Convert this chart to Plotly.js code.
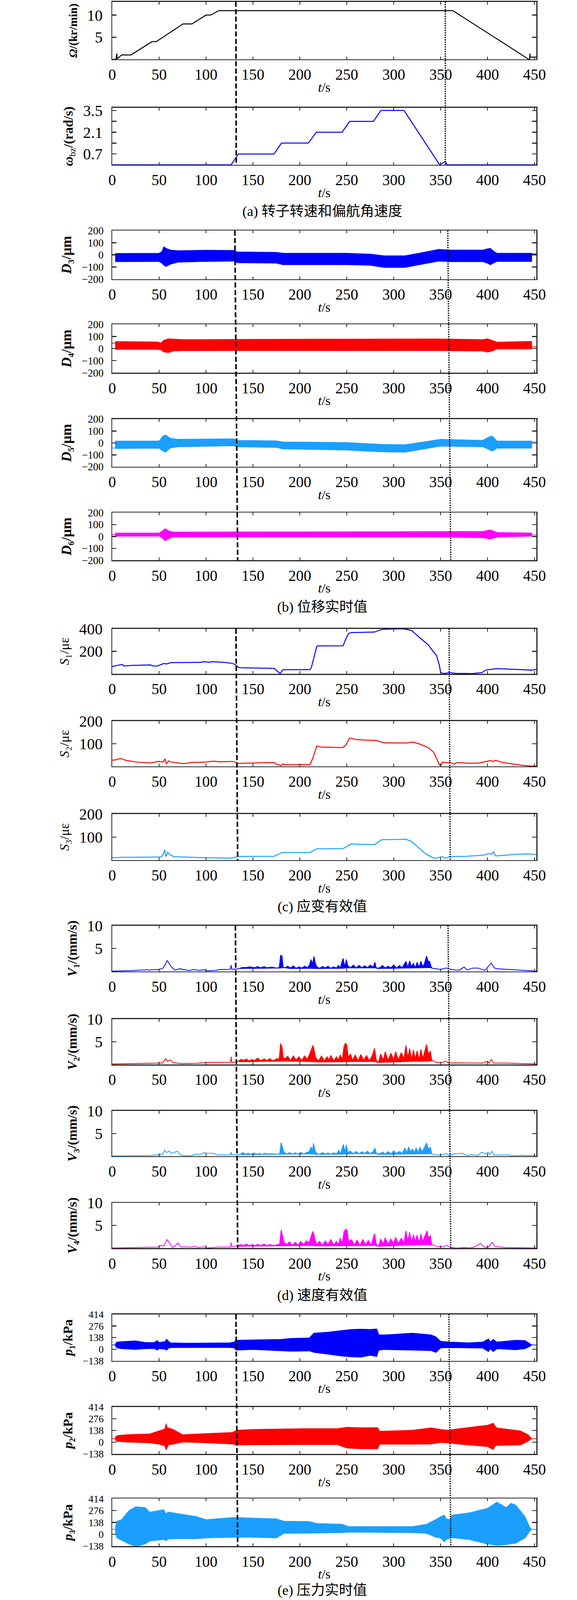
<!DOCTYPE html>
<html>
<head>
<meta charset="utf-8">
<script src="https://cdn.plot.ly/plotly-3.0.1.min.js"></script>
<style>
  body { margin: 0; background: #fff; }
  #chart { width: 1476px; height: 4096px; }
</style>
</head>
<body>
<div id="chart"></div>
<script>
// rotor speed (kr/min) and yaw rate (rad/s): [t, value]
const rotorSpeed = [[0,0],[4,0],[5,1.3],[5.3,0.1],[10,1.0],[20,1.0],[42.4,4],[47,4],[75.5,8],[85,8],[100,10],[105,10],
  [113.7,11],[363,11],[444,0],[445,0],[445.2,1.3],[445.5,0.5],[452,0.5]];
const yawRate = [[0,0],[126.7,0],[134.5,0.7],[172.5,0.7],[180.4,1.4],[209,1.4],[217.6,2.1],[245,2.1],[253,2.8],
  [278.4,2.8],[286.3,3.5],[311,3.5],[349,0],[355,0.22],[357,0],[452,0]];

// displacement envelopes (um): [t, upper, lower]
const d3 = [[0,3,3],[3.4,3,3],[3.5,12,-56],[50,14,-54],[53,28,-68],[55,67,-86],[57.5,54,-95],[62,40,-77],[70,35,-60],
  [100,39,-54],[130,37,-51],[133,25,-65],[175,21,-68],[182,14,-81],[250,14,-81],[275,7,-86],[290,-7,-103],[312,-7,-103],
  [330,19,-77],[348,46,-51],[360,40,-56],[395,40,-56],[400,51,-68],[403,54,-81],[407,28,-65],[410,14,-54],[447,14,-54],
  [447.1,9,9],[452,9,9]];
const d4 = [[0,44,44],[3.4,44,44],[3.5,58,-7],[48,55,-7],[52,46,-11],[55,69,-28],[60,81,-34],[65,78,-21],[75,74,-18],
  [130,76,-18],[345,80,-18],[395,74,-21],[400,81,-30],[405,67,-21],[410,53,-4],[447,60,-4],[447.1,14,14],[452,14,14]];
const d5 = [[0,-42,-42],[3.4,-42,-42],[3.5,16,-47],[50,16,-45],[54,58,-69],[57,67,-78],[62,40,-42],[70,31,-33],
  [130,35,-24],[133,22,-33],[175,18,-38],[182,9,-51],[250,4,-60],[285,-11,-75],[312,-15,-78],[350,31,-27],[395,22,-33],
  [400,45,-51],[405,58,-69],[410,16,-45],[447,16,-45],[447.1,9,9],[452,9,9]];
const d6 = [[0,16,16],[3.4,16,16],[3.5,29,2],[50,29,2],[53,43,-11],[56.5,66,-37],[60,48,-20],[65,37,-5],[345,41,-5],
  [395,43,-11],[403,55,-23],[410,34,-5],[447,29,2],[447.1,12,12],[452,12,12]];

// strain RMS (ue): [t, value]
const s1 = [[0,65],[8.5,79],[10.8,84],[12.5,70],[20,75],[40.7,79],[43.6,70],[48,70],[52.5,84],[55,92],[58,88],[62.7,100],
  [93.5,102],[99.4,108],[102.3,103],[106.7,108],[120,102],[128.7,92],[131.6,79],[134.5,57],[137.5,54],[172.6,49],[179,3],
  [182,37],[184.4,37],[210.7,38],[212.2,55],[218,244],[219.5,248],[246,249],[249.5,319],[252,359],[254.7,366],[279.6,371],
  [285.5,390],[290,396],[310,400],[319,386],[328,319],[336.8,258],[341,210],[345.6,163],[348.5,81],[350,14],[353,3],
  [357,9],[360,11],[366,5],[383.7,3],[394,11],[398,34],[401,38],[410,46],[436,38],[446.6,33],[452,41]];
const s2 = [[0,27],[5.6,30],[8.5,35],[11.4,31],[14.4,27],[26,19],[40.7,15],[49.5,22],[54,19],[56.3,33],[57.8,10],[59.8,24],
  [62.7,19],[67,17],[76,12],[85,17],[99.4,19],[108,23],[114,20],[128.7,22],[134.5,13],[172.6,17],[175.6,9],[180,3],[182,11],
  [184.4,7],[210.7,7],[213.7,35],[218,90],[222.5,85],[246,83],[249,95],[253,125],[260.6,118],[281,114],[290,104],[313,103],
  [320.6,107],[328,98],[336.8,83],[342.6,62],[345.6,35],[348.5,9],[350,2],[352,19],[356,16],[360,18],[364.6,10],[367.5,17],
  [378,14],[390,14],[398,21],[402.7,25],[405.6,22],[408.6,27],[416,17],[427.6,10],[436,5],[445,2],[452,1]];
const s3 = [[0,10.5],[11.4,12],[40.7,13],[52.5,14],[54.5,28],[56,45],[57.2,15],[59,35],[61,25],[65.7,15],[85,12],[114,10],
  [127,8.5],[134.5,16],[172.6,17],[181.4,33],[210.7,33],[218,49],[246,50],[254.7,70],[279.6,67],[287,88.5],[313,90.5],
  [319,81],[333.8,28],[342.6,8.5],[347,10],[351.4,15],[355,8.5],[360,15],[378,17],[395.5,21.6],[402.7,29.5],[404.2,24],
  [406.5,36.7],[408.5,18],[430.6,25],[442.3,27],[452,25]];

// velocity RMS (mm/s): [t, value] (peaks of the signal)
const v1 = [[0,0.08],[20,0.18],[30,0.3],[35,0.32],[37,0.4],[39,0.3],[45,0.38],[49.5,0.45],[54,0.7],[57,1.6],[58.3,2.4],
  [60,2.0],[63,1.0],[67,0.26],[71.5,0.58],[76,0.42],[82,0.22],[87.6,0.42],[90,0.3],[93.5,0.26],[98,0.38],[101,0.14],
  [111,0.26],[114,0.42],[125.7,0.46],[126.8,1.4],[127.3,0.5],[131.6,0.5],[135,0.6],[137.5,0.8],[140,0.9],[143,0.86],
  [146,1.0],[149,0.93],[152,0.8],[155,1.1],[158,0.8],[162,1.05],[165,0.8],[170,0.95],[175,0.75],[178,0.85],[179.5,3.5],
  [181,3.4],[182,1.0],[184,0.8],[187,1.15],[190,0.75],[193,1.2],[196,0.7],[199,1.0],[202,0.75],[205,1.15],[208,0.85],
  [210,1.3],[212,2.6],[213.5,1.6],[215,3.25],[216.5,1.8],[218,1.0],[221,0.7],[224,1.1],[227,0.8],[230,1.15],[233,0.7],
  [236,1.0],[239,0.75],[241,1.3],[243,0.8],[246,2.85],[248,1.0],[249.5,2.6],[251,1.3],[254,0.8],[257,1.4],[260,0.75],
  [263,1.35],[266,0.8],[269,1.25],[272,0.85],[275,1.4],[278,0.9],[280,2.0],[281.5,0.7],[285,0.8],[288,1.3],[291,0.75],
  [294,1.15],[297,0.8],[300,1.4],[303,0.75],[306,1.3],[309,0.8],[313,2.2],[315,0.9],[317,2.3],[319,1.0],[321,1.8],
  [323,0.8],[325,2.0],[327,0.9],[329,2.2],[331,1.0],[333,1.9],[335,3.35],[337,2.0],[338,2.3],[340,1.0],[341,0.7],
  [345,0.6],[350,0.45],[356,0.75],[360,0.5],[366,0.32],[370,0.3],[375,0.97],[378,0.32],[384,0.73],[390,0.75],[397,0.22],
  [404,1.84],[407,0.8],[410,0.6],[422,0.45],[436,0.26],[449,0.08],[452,0.08]];
const v2 = [[0,0.1],[20,0.16],[50,0.3],[54,0.35],[57,1.3],[59,0.7],[62,1.0],[65,0.4],[73,0.2],[90,0.26],[99,0.4],[126,0.47],
  [126.8,1.7],[127.3,0.45],[131.6,0.47],[135,0.8],[137.5,1.15],[140,0.9],[143,1.2],[146,0.8],[149,1.1],[152,0.9],[155,1.4],
  [158,0.85],[162,1.2],[165,0.9],[168,1.3],[171,0.8],[175,1.2],[178,1.3],[179.5,4.6],[181,3.8],[182,1.7],[184,1.2],
  [187,1.8],[190,0.9],[193,1.9],[196,1.0],[199,1.7],[202,0.9],[205,1.9],[208,1.1],[211,2.6],[212.5,3.5],[214,4.2],
  [215.5,2.8],[217,1.4],[220,0.8],[223,1.9],[226,0.8],[229,1.7],[231,1.0],[233,2.0],[236,0.8],[239,1.7],[241,1.0],
  [243,2.1],[245,1.0],[247,3.9],[248.5,4.7],[250,4.3],[251.5,1.6],[254,2.3],[256,0.9],[259,2.1],[262,0.8],[265,2.2],
  [268,0.9],[271,2.0],[274,0.8],[277,1.9],[279.5,3.55],[281.5,0.9],[284,0.5],[286,2.3],[289,1.0],[291,2.8],[294,0.9],
  [297,2.5],[300,1.0],[302,2.8],[305,1.0],[308,2.6],[311,1.2],[313,4.2],[315,1.4],[317,3.5],[319,1.0],[321,3.2],[323,1.2],
  [325,3.0],[327,1.0],[329,3.3],[331,1.3],[333,2.8],[335,4.4],[337,2.2],[339,3.0],[340.5,1.0],[342,0.8],[345,0.5],
  [350,0.35],[356,0.7],[358,0.3],[365,0.35],[380,0.35],[395,0.3],[400,0.7],[401.5,0.3],[404,1.1],[406.5,0.3],[420,0.3],
  [436,0.2],[449,0.1],[452,0.1]];
const v3 = [[0,0.08],[40,0.14],[49.5,0.3],[54,0.5],[56,1.3],[58,0.8],[61,1.15],[63,0.6],[67,0.9],[69.5,1.1],[72,0.35],
  [76,0.1],[85,0.14],[89,0.48],[92,0.35],[95,0.5],[98,0.78],[101,0.65],[108,0.64],[112.5,0.28],[126,0.28],[126.8,0.94],
  [127.3,0.3],[133,0.35],[137,0.5],[139,0.78],[142,0.45],[145,0.6],[148,0.4],[151,0.7],[154,0.45],[157,0.6],[160,0.4],
  [163,0.65],[166,0.45],[170,0.55],[174,0.45],[178.5,0.5],[180,3.0],[181.5,2.0],[183,0.9],[186,0.5],[189,0.8],[192,0.45],
  [195,0.75],[198,0.45],[201,0.85],[204,0.5],[207,0.8],[210,1.0],[212,2.05],[213.5,1.2],[214.5,2.85],[216,1.3],[218,0.6],
  [221,0.4],[224,0.8],[227,0.45],[230,0.7],[233,0.4],[236,0.75],[239,0.5],[241.5,1.3],[243,0.5],[246.5,2.6],[248,0.9],
  [249.5,2.5],[251,0.9],[254,1.1],[257,0.55],[260,1.05],[263,0.5],[266,1.0],[269,0.6],[272,1.1],[275,0.55],[278,1.0],
  [280,1.8],[281.5,0.6],[285,0.5],[288,0.9],[291,0.5],[294,1.0],[297,0.55],[300,1.15],[303,0.6],[306,1.05],[309,0.6],
  [312,1.8],[314,0.8],[316,2.05],[318,0.9],[320,1.6],[322,0.8],[324,1.8],[326,0.8],[328,1.95],[330,1.0],[332,1.6],
  [335,2.9],[337,1.5],[339,2.0],[340.5,0.6],[342,0.3],[350,0.25],[356,0.6],[358,0.2],[366,0.54],[373,0.62],[378,0.14],
  [383,0.3],[390,0.14],[393,0.84],[396,0.7],[398,0.5],[400.5,0.84],[402,0.3],[404.5,1.08],[407,0.25],[422,0.28],[425,0.1],
  [436,0.18],[452,0.1]];
const v4 = [[0,0.05],[26,0.14],[41,0.2],[49.5,0.24],[52,0.65],[55,0.45],[58.3,1.9],[61,1.15],[64,0.18],[67,0.5],[70,1.15],
  [73,0.3],[85,0.24],[87.6,0.38],[92,0.15],[98,0.3],[101,0.05],[112.5,0.24],[126,0.24],[126.8,1.25],[127.3,0.35],[133,0.5],
  [137,0.8],[140,0.6],[143,0.9],[146,0.55],[149,0.8],[152,0.5],[155,0.85],[158,0.6],[162,0.9],[165,0.55],[168,0.8],
  [172,0.6],[176,0.75],[178.5,0.9],[180,4.0],[181.5,2.8],[183,1.3],[186,0.8],[189,1.4],[192,0.6],[195,1.3],[198,0.7],
  [201,1.5],[204,0.8],[207,1.6],[210,1.2],[212,2.6],[213.7,3.7],[215,3.0],[216.5,1.6],[218,0.8],[221,1.5],[224,0.6],
  [227,1.6],[230,0.8],[233,1.9],[236,0.7],[239,1.5],[241,0.8],[243,2.2],[245,0.9],[247,3.6],[249,4.2],[250.5,3.8],
  [252,1.4],[255,1.9],[258,0.7],[261,1.8],[264,0.6],[267,1.9],[270,0.8],[273,1.7],[276,0.7],[279.5,3.2],[281.5,0.8],
  [284,0.5],[286,2.0],[289,1.0],[291,2.3],[294,0.9],[297,2.0],[300,1.0],[302,2.4],[305,1.0],[308,2.2],[311,1.2],[313,3.8],
  [315,1.5],[317,3.5],[319,1.2],[321,3.0],[323,1.4],[325,2.9],[327,1.2],[329,3.1],[331,1.5],[333,2.6],[335.6,3.8],
  [337,2.2],[339,2.8],[340.5,0.8],[345,0.4],[352,0.3],[356.5,0.6],[360,0.25],[367,0],[372,0.1],[375,0.18],[380.7,0.05],
  [386.6,0.3],[392.4,1.05],[395,0.45],[400,0.05],[404.8,1.3],[408,0.35],[412,0.3],[418,0.15],[430,0.12],[452,0.05]];
// noise floor of the velocity signals while the yaw rate is applied: [t, value]
const v1Floor = [[135,0.6],[178,0.7],[183,0.8],[190,0.6],[210,0.65],[218,0.6],[245,0.65],[252,0.75],[280,0.75],[284,0.6],
  [312,0.7],[330,0.8],[338,0.8],[341,0.7]];
const v2Floor = [[135,0.55],[178,0.7],[184,0.7],[210,0.6],[220,0.5],[245,0.55],[255,0.6],[280,0.6],[284,0.4],[312,0.6],
  [338,0.7],[341,0.8]];
const v3Floor = [[137,0.3],[178,0.35],[184,0.4],[210,0.45],[220,0.35],[245,0.4],[255,0.5],[280,0.5],[284,0.35],[312,0.45],
  [338,0.5],[340.5,0.5]];
const v4Floor = [[133,0.35],[178,0.45],[184,0.5],[210,0.55],[220,0.45],[245,0.5],[255,0.55],[280,0.55],[284,0.35],[312,0.6],
  [338,0.7],[340.5,0.7]];

// pressure envelopes (kPa): [t, upper, lower]
const p1 = [[0,50,50],[3.4,50,50],[3.5,64,35],[5,85,14],[10,90,5],[25,99,-4],[35,81,5],[45,80,7],[48,103,-12],[50,80,5],
  [56,90,0],[58,120,-12],[60,95,10],[62,76,18],[80,71,19],[125,76,19],[130,85,14],[132,106,-12],[150,111,-4],[180,117,-18],
  [190,129,-25],[210,134,-21],[215,191,-39],[230,203,-60],[245,223,-83],[255,235,-92],[265,239,-96],[275,235,-74],
  [282,241,-88],[284,173,-12],[290,170,-4],[300,177,-7],[320,191,-12],[340,170,-18],[345,147,-39],[350,94,14],[360,85,18],
  [380,76,14],[395,85,12],[401,124,-30],[403,85,5],[406,117,-30],[410,85,5],[430,106,-7],[440,103,5],[445,67,32],
  [447,50,50],[452,50,50]];
const p2 = [[0,42,42],[3.4,42,42],[3.5,60,25],[5,77,10],[15,89,2],[40,98,-7],[50,133,-24],[56,154,-42],[57.5,217,-91],
  [59,160,-50],[60,168,-30],[65,150,-24],[75,89,2],[100,101,-7],[128,115,-21],[133,141,-33],[150,150,-30],[200,159,-28],
  [240,159,-28],[250,176,-68],[265,171,-77],[283,171,-77],[285,129,-24],[320,141,-24],[340,168,-21],[350,150,-3],
  [358,141,-7],[370,159,-24],[390,185,-42],[400,199,-51],[406,224,-86],[408,190,-45],[410,168,-38],[435,133,-33],
  [443,89,10],[447,42,42],[452,42,42]];
const p3 = [[0,58,58],[3.4,58,58],[3.5,90,20],[5,152,-42],[10,170,-69],[18,276,-113],[25,320,-140],[35,311,-113],
  [40,258,-78],[55,285,-60],[57,240,-75],[60,258,-55],[70,241,-51],[90,205,-51],[100,170,-42],[130,196,-34],[150,188,-34],
  [175,179,-42],[183,152,11],[210,149,11],[218,126,14],[245,117,19],[252,90,25],[320,90,19],[335,117,11],[345,173,-34],
  [350,205,-42],[354,223,-87],[356,180,-60],[360,170,-45],[362,223,-40],[380,249,-60],[400,302,-113],[410,373,-127],
  [420,311,-120],[425,360,-110],[430,338,-104],[440,205,-42],[445,81,37],[447,58,58],[452,58,58]];

// event times (s) of the two vertical markers, per figure group: [top, bottom]
const dashT = [[131.8,132.2],[130.7,133.7],[131.9,133.7],[131.3,133.7],[131.9,133.7]];
const dotT  = [[355,355],[357.6,360.8],[359,360.2],[357.9,360.8],[358.8,360.8]];

const xTicks = [0,50,100,150,200,250,300,350,400,450];
const captions = ['(a) 转子转速和偏航角速度','(b) 位移实时值','(c) 应变有效值','(d) 速度有效值','(e) 压力实时值'];

// the window shows 1476x4096, so the 6280-px-tall reference sheet is laid out in proportion
const W = 1476, H = 4096, REF_H = 6280, L = 287, R = 1372;
const BLUE = '#0000ff', RED = '#ff0000', SKY = '#1a9fff', MAG = '#ff00ff';
const FONT = 'Liberation Serif, "Times New Roman", "Noto Sans CJK SC", serif';
const AXIS = '#262626';

// size = tick label font, kept small where five labels share a short panel
const dTicks = { vals: [-200,-100,0,100,200], text: ['\u2212200','\u2212100','0','100','200'], range: [-200,200], size: 27 };
const pTicks = { vals: [-138,0,138,276,414], text: ['\u2212138','0','138','276','414'], range: [-138,414], size: 26 };
const vTicks = { vals: [5,10], text: ['5','10'], range: [0,10], size: 40 };
const sTicks = { vals: [100,200], text: ['100','200'], range: [0,200], size: 40 };

// panel frames in reference pixels (top, bottom)
const panels = [
  { top: 7,    bottom: 233,  size: 30, title: '<b><i>Ω</i>/(kr/min)</b>',
    ticks: { vals: [5,10], text: ['5','10'], range: [0,13], size: 40 } },
  { top: 423,  bottom: 647,  size: 34, title: '<b><i>ω</i></b><sub>bz</sub><b>/(rad/s)</b>',
    ticks: { vals: [0.7,2.1,3.5], text: ['0.7','2.1','3.5'], minor: [1.4,2.8], range: [0,3.675], size: 40 } },
  { top: 905,  bottom: 1096, size: 36, title: '<b><i>D</i>₃/μm</b>', ticks: dTicks },
  { top: 1273, bottom: 1463, size: 36, title: '<b><i>D</i>₄/μm</b>', ticks: dTicks },
  { top: 1645, bottom: 1832, size: 36, title: '<b><i>D</i>₅/μm</b>', ticks: dTicks },
  { top: 2012, bottom: 2199, size: 36, title: '<b><i>D</i>₆/μm</b>', ticks: dTicks },
  { top: 2468, bottom: 2645, size: 34, title: '<i>S</i>₁/με',
    ticks: { vals: [200,400], text: ['200','400'], range: [0,400], size: 40 } },
  { top: 2830, bottom: 3008, size: 34, title: '<i>S</i>₂/με', ticks: sTicks },
  { top: 3195, bottom: 3376, size: 34, title: '<i>S</i>₃/με', ticks: sTicks },
  { top: 3633, bottom: 3813, size: 34, title: '<b><i>V</i>₁/(mm/s)</b>', ticks: vTicks },
  { top: 4000, bottom: 4178, size: 34, title: '<b><i>V</i>₂/(mm/s)</b>', ticks: vTicks },
  { top: 4360, bottom: 4538, size: 34, title: '<b><i>V</i>₃/(mm/s)</b>', ticks: vTicks },
  { top: 4721, bottom: 4899, size: 34, title: '<b><i>V</i>₄/(mm/s)</b>', ticks: vTicks },
  { top: 5159, bottom: 5341, size: 34, title: '<b><i>p</i>₁/kPa</b>', ticks: pTicks },
  { top: 5522, bottom: 5707, size: 34, title: '<b><i>p</i>₂/kPa</b>', ticks: pTicks },
  { top: 5882, bottom: 6069, size: 34, title: '<b><i>p</i>₃/kPa</b>', ticks: pTicks }
];
// figure groups: first and last panel index, caption centre (reference px)
const groups = [[0,1,830],[2,5,2383],[6,8,3559],[9,12,5084],[13,15,6242]];

function axId(i) { return i === 0 ? '' : String(i + 1); }
function frac(px) { return 1 - px / REF_H; }

function line(pts, color, width, i) {
  return { x: pts.map(p => p[0]), y: pts.map(p => p[1]), type: 'scatter', mode: 'lines',
    line: { color: color, width: width }, xaxis: 'x' + axId(i), yaxis: 'y' + axId(i), hoverinfo: 'skip' };
}

// dense oscillating signal drawn as a filled band between its envelopes
function band(pts, color, i) {
  const t = pts.map(p => p[0]);
  return [
    { x: t, y: pts.map(p => p[2]), type: 'scatter', mode: 'lines', line: { color: color, width: 1.5 },
      xaxis: 'x' + axId(i), yaxis: 'y' + axId(i), hoverinfo: 'skip' },
    { x: t, y: pts.map(p => p[1]), type: 'scatter', mode: 'lines', line: { color: color, width: 1.5 },
      fill: 'tonexty', fillcolor: color, xaxis: 'x' + axId(i), yaxis: 'y' + axId(i), hoverinfo: 'skip' }
  ];
}

// velocity: peaks as a line, plus the dense part between the noise floor and the peaks filled
function noisy(pts, floor, color, i) {
  const t0 = floor[0][0], t1 = floor[floor.length - 1][0];
  const seg = pts.filter(p => p[0] >= t0 && p[0] <= t1);
  const peak = line(pts, color, 2, i);
  const lo = line(floor, color, 1, i);
  const hi = line(seg, color, 1, i);
  hi.fill = 'tonexty';
  hi.fillcolor = color;
  return [lo, hi, peak];
}

const traces = [
  line(rotorSpeed, '#000000', 2.5, 0),
  line(yawRate, BLUE, 2.5, 1),
  ...band(d3, BLUE, 2), ...band(d4, RED, 3), ...band(d5, SKY, 4), ...band(d6, MAG, 5),
  line(s1, BLUE, 2.5, 6), line(s2, RED, 2.5, 7), line(s3, SKY, 2.5, 8),
  ...noisy(v1, v1Floor, BLUE, 9), ...noisy(v2, v2Floor, RED, 10),
  ...noisy(v3, v3Floor, SKY, 11), ...noisy(v4, v4Floor, MAG, 12),
  ...band(p1, BLUE, 13), ...band(p2, RED, 14), ...band(p3, SKY, 15)
];

const layout = {
  width: W, height: H,
  margin: { l: L, r: W - R, t: 0, b: 0 },
  paper_bgcolor: '#ffffff', plot_bgcolor: '#ffffff',
  showlegend: false,
  font: { family: FONT, color: '#000000', size: 40 },
  shapes: [], annotations: []
};

panels.forEach((p, i) => {
  const k = axId(i);
  layout['xaxis' + k] = {
    domain: [0, 1], anchor: 'y' + k, range: [0, 452],
    tickvals: xTicks, ticks: 'inside', ticklen: 7, tickwidth: 2.5, tickcolor: AXIS,
    showline: true, linewidth: 2.5, linecolor: AXIS, mirror: 'ticks',
    showgrid: false, zeroline: false, ticklabelstandoff: 3,
    tickfont: { size: 39, family: FONT },
    title: { text: '<i>t</i>/s', font: { size: 34, family: FONT }, standoff: 0 }
  };
  const y = {
    domain: [frac(p.bottom), frac(p.top)], anchor: 'x' + k, range: p.ticks.range,
    tickvals: p.ticks.vals, ticktext: p.ticks.text,
    ticks: 'inside', ticklen: 11, tickwidth: 2.5, tickcolor: AXIS,
    showline: true, linewidth: 2.5, linecolor: AXIS, mirror: 'ticks',
    showgrid: false, zeroline: false, ticklabelstandoff: 14,
    tickfont: { size: p.ticks.size, family: FONT },
    title: { text: p.title, font: { size: p.size, family: FONT }, standoff: 16 }
  };
  if (p.ticks.minor) {
    y.minor = { tickmode: 'array', tickvals: p.ticks.minor, ticks: 'inside', ticklen: 11, tickwidth: 2.5,
      tickcolor: AXIS, showgrid: false };
  }
  layout['yaxis' + k] = y;
});

groups.forEach((g, j) => {
  const yTop = frac(panels[g[0]].top);
  const yBot = frac(panels[g[1]].bottom);
  layout.shapes.push({ type: 'line', xref: 'x', yref: 'paper', x0: dashT[j][0], x1: dashT[j][1], y0: yTop, y1: yBot,
    line: { color: '#000000', width: 4, dash: '13px,6px' } });
  layout.shapes.push({ type: 'line', xref: 'x', yref: 'paper', x0: dotT[j][0], x1: dotT[j][1], y0: yTop, y1: yBot,
    line: { color: '#000000', width: 3.5, dash: '3px,3px' } });
  layout.annotations.push({ text: captions[j], xref: 'paper', yref: 'paper', x: 0.495, y: frac(g[2]),
    xanchor: 'center', yanchor: 'middle', showarrow: false, font: { size: 36, family: FONT, color: '#000000' } });
});

Plotly.newPlot('chart', traces, layout, { staticPlot: true, displayModeBar: false });
</script>
</body>
</html>
